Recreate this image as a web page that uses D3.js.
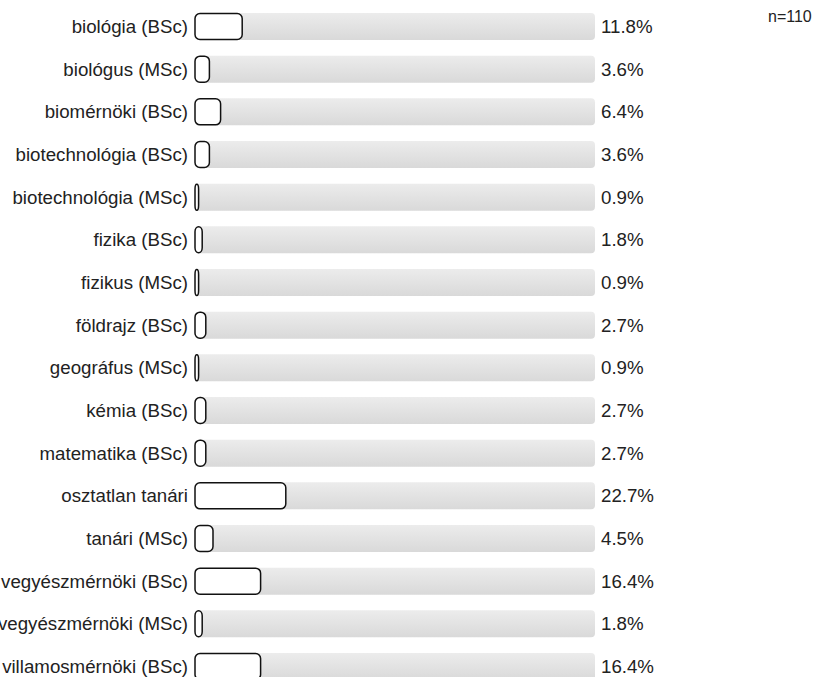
<!DOCTYPE html>
<html>
<head>
<meta charset="utf-8">
<script src="https://cdn.jsdelivr.net/npm/d3@7"></script>
<style>
	body { margin: 0; background: #fff; }
	text { font-family: "Liberation Sans", Arial, sans-serif; fill: #222; }
</style>
</head>
<body>
<div id="chart"></div>
<script>
// ---------- DATA ----------
const categories = [
	"biológia (BSc)",
	"biológus (MSc)",
	"biomérnöki (BSc)",
	"biotechnológia (BSc)",
	"biotechnológia (MSc)",
	"fizika (BSc)",
	"fizikus (MSc)",
	"földrajz (BSc)",
	"geográfus (MSc)",
	"kémia (BSc)",
	"matematika (BSc)",
	"osztatlan tanári",
	"tanári (MSc)",
	"vegyészmérnöki (BSc)",
	"vegyészmérnöki (MSc)",
	"villamosmérnöki (BSc)",
];
const percents = [11.8, 3.6, 6.4, 3.6, 0.9, 1.8, 0.9, 2.7, 0.9, 2.7, 2.7, 22.7, 4.5, 16.4, 1.8, 16.4];
const sampleLabel = "n=110";

const size = { w: 827, h: 677 };
const barH = 27;

const data = categories.map((c, i) => ({ cat: c, val: percents[i] }));

const svg = d3
	.select("#chart")
	.append("svg")
	.attr("width", size.w)
	.attr("height", size.h);

const defs = svg.append("defs");
const grad = defs
	.append("linearGradient")
	.attr("id", "bgGrad")
	.attr("x1", 0).attr("y1", 0)
	.attr("x2", 0).attr("y2", 1);
grad.append("stop").attr("offset", "0%").attr("stop-color", "#ececec");
grad.append("stop").attr("offset", "100%").attr("stop-color", "#d9d9d9");

const xScale = d3.scaleLinear().domain([0, 100]).range([195, 595]);
const yScale = d3
	.scalePoint()
	.domain(categories)
	.range([26.5, 666.5]);

const rows = svg
	.selectAll("g.row")
	.data(data)
	.enter()
	.append("g")
	.classed("row", true)
	.attr("transform", (d) => `translate(0, ${yScale(d.cat)})`);

// background track
rows
	.append("rect")
	.attr("x", xScale(0))
	.attr("y", -barH / 2)
	.attr("width", xScale(100) - xScale(0))
	.attr("height", barH)
	.attr("rx", 4)
	.attr("fill", "url(#bgGrad)");

// value box
rows
	.append("rect")
	.attr("x", xScale(0))
	.attr("y", -barH / 2 + 0.5)
	.attr("width", (d) => xScale(d.val) - xScale(0))
	.attr("height", barH - 1)
	.attr("rx", 5)
	.attr("fill", "#fff")
	.attr("stroke", "#111")
	.attr("stroke-width", 1.5);

// category labels
rows
	.append("text")
	.attr("x", 188)
	.attr("y", 0)
	.attr("dy", "0.35em")
	.attr("text-anchor", "end")
	.style("font-size", "18.7px")
	.text((d) => d.cat);

// percent labels
rows
	.append("text")
	.attr("x", 601)
	.attr("y", 0)
	.attr("dy", "0.35em")
	.style("font-size", "18.7px")
	.text((d) => `${d.val.toFixed(1)}%`);

svg
	.append("text")
	.attr("x", 768)
	.attr("y", 22)
	.style("font-size", "16px")
	.text(sampleLabel);
</script>
</body>
</html>
